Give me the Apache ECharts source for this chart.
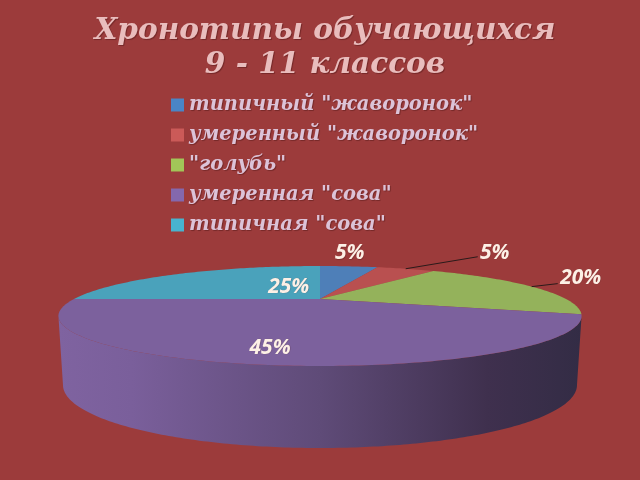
<!DOCTYPE html>
<html><head><meta charset="utf-8">
<style>html,body{margin:0;padding:0;background:#9c3b3b}#c{width:640px;height:480px}</style>
<script src="https://cdn.jsdelivr.net/npm/echarts@6/dist/echarts.min.js"></script>
</head><body><div id="c"></div>
<script>
const categories = ['типичный "жаворонок"','умеренный "жаворонок"','"голубь"','умеренная "сова"','типичная "сова"'];
const values = [5,5,20,45,25];
const percentLabels = ['5%','5%','20%','45%','25%'];
const legendColors = ['#4a85c6','#cb5a58','#a2c558','#8468ad','#48b3cf'];
const faceColors = ['#4e7fb8','#b95050','#94b25b','#7c619d','#4aa2bb'];

// Perspective view of the disc (layout, not data)
const cx = 320, X = 246, P = -0.34, A = -57.44, B = 299;
const labelOffsets = [[1,-13],[89,-16],[49,-9],[8,-17],[109,13]];
const leader = [false,true,true,false,false];
const total = values.reduce((a,b)=>a+b,0);
function proj(deg, r){
  const t = deg*Math.PI/180, x = r*Math.sin(t), y = -r*Math.cos(t), d = P*y+1;
  return [cx + X*x/d, (A*y+B)/d];
}
function startDeg(i){ let s=0; for(let k=0;k<i;k++) s+=values[k]; return s/total*360; }

function renderSlice(i, api){
  const v = api.value(0), a0 = startDeg(i), a1 = a0 + v/total*360;
  const pts = [proj(0,0)];
  for(let a=a0;a<=a1+1e-6;a+=1) pts.push(proj(Math.min(a,a1),1));
  pts.push(proj(a1,1));
  const children = [];
  // side wall, front arc only
  const w0 = Math.max(a0,110), w1 = Math.min(a1,250);
  if(w1>w0){
    const wall=[];
    for(let a=w0;a<=w1;a+=1) wall.push(proj(a,1));
    for(let f=180;f>=0;f-=1){
      const t=f*Math.PI/180;
      wall.push([cx+257*Math.cos(t), 385+63*Math.sin(t)]);
    }
    children.push({type:'polygon',shape:{points:wall},style:{fill:new echarts.graphic.LinearGradient(0,0,1,0,[
      {offset:0,color:'#7f63a0'},{offset:0.14,color:'#7a5f9b'},{offset:0.5,color:'#5f4b78'},
      {offset:0.82,color:'#3f304e'},{offset:1,color:'#332c45'}])}});
  }
  children.push({type:'polygon',shape:{points:pts},style:{fill:faceColors[i]}});
  return {type:'group',children};
}
function renderLabel(i, api){
  const mid = startDeg(i)+api.value(0)/total*180;
  const rim = proj(mid,1), o = labelOffsets[i];
  const c = [];
  const lx = rim[0]+o[0], ly = rim[1]+o[1];
  if(leader[i]) c.push({type:'line',shape:{x1:rim[0],y1:rim[1],x2:lx-(i==1?17:23),y2:ly+(i==1?4:6)},style:{stroke:'#2a1a1a',lineWidth:1}});
  c.push({type:'text',style:{x:lx,y:ly,text:percentLabels[i],fill:'#fdf0e6',align:'center',verticalAlign:'middle',
    font:'italic bold 21px "Open Sans"',textShadowColor:'rgba(70,20,20,0.35)',textShadowBlur:1,textShadowOffsetX:0.5,textShadowOffsetY:0.5}});
  return {type:'group',children:c};
}
const series = categories.map((name,i)=>({
  name, type:'custom', coordinateSystem:'none', data:[[values[i]]],
  itemStyle:{color:legendColors[i]}, silent:true, animation:false, z:2,
  renderItem:(p,api)=>renderSlice(i,api)
}));
// labels sit above all the slices
series.push(...categories.map((name,i)=>({
  name:'l'+i, type:'custom', coordinateSystem:'none', data:[[values[i]]], silent:true, animation:false, z:5,
  renderItem:(p,api)=>renderLabel(i,api)
})));

const chart = echarts.init(document.getElementById('c'),null,{renderer:'canvas'});
chart.setOption({
  backgroundColor:'#9c3b3b',
  animation:false,
  title:{text:'Хронотипы обучающихся\n9 - 11 классов',left:320,top:9,textAlign:'center',
    textStyle:{fontFamily:'DejaVu Serif',fontStyle:'italic',fontWeight:'bold',fontSize:29.5,lineHeight:34,color:'#e9bdbd',
      textShadowColor:'rgba(90,25,25,0.6)',textShadowBlur:1,textShadowOffsetX:1,textShadowOffsetY:1}},
  legend:{data:categories,orient:'vertical',left:166,top:89,icon:'rect',itemWidth:13,itemHeight:13,itemGap:8,
    selectedMode:false,
    textStyle:{fontFamily:'DejaVu Serif',fontStyle:'italic',fontWeight:'bold',fontSize:19.5,lineHeight:22,color:'#dcc3d8',
      textShadowColor:'rgba(90,25,25,0.6)',textShadowBlur:1,textShadowOffsetX:1,textShadowOffsetY:1}},
  series
});
</script></body></html>
